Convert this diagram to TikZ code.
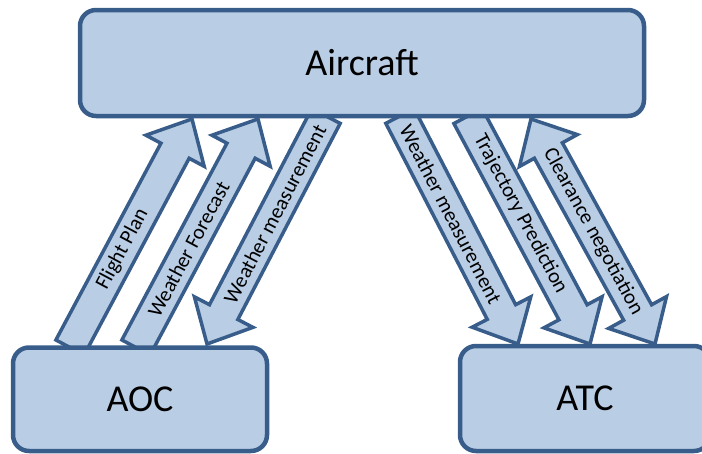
\documentclass[tikz,border=0pt]{standalone}
\usepackage{fontspec}
\setmainfont{Carlito}
\usetikzlibrary{calc}
\pgfdeclarelayer{bg}
\pgfsetlayers{bg,main}

\definecolor{boxfill}{HTML}{B9CDE5}
\definecolor{boxline}{HTML}{385D8A}

\tikzset{
  party/.style={draw=boxline, fill=boxfill, line width=4.5pt, rounded corners=16pt,
    font=\fontsize{38}{44}\selectfont, inner sep=0pt},
  flow/.style={draw=boxline, fill=boxfill, line width=3.5pt, line join=miter},
  flowlabel/.style={font=\fontsize{21}{25}\selectfont, inner sep=0pt},
}

% block arrow geometry
\def\shaftw{16pt}
\def\headw{33pt}
\def\headl{36pt}

% one-headed block arrow from #1 to #2, labelled #3 along its shaft
\newcommand\onearrow[3]{%
  \coordinate (hb) at ($(#2)!\headl!(#1)$);
  \begin{pgfonlayer}{bg}
    \draw[flow] ($(#1)!\shaftw!90:(#2)$) -- ($(hb)!\shaftw!90:(#2)$)
      -- ($(hb)!\headw!90:(#2)$) -- (#2) -- ($(hb)!\headw!-90:(#2)$)
      -- ($(hb)!\shaftw!-90:(#2)$) -- ($(#1)!\shaftw!-90:(#2)$) -- cycle;
  \end{pgfonlayer}
  \path (#1) -- (hb) node[midway, sloped, flowlabel] {#3};
}

% two-headed block arrow between #1 and #2
\newcommand\twoarrow[3]{%
  \coordinate (ha) at ($(#1)!\headl!(#2)$);
  \coordinate (hb) at ($(#2)!\headl!(#1)$);
  \begin{pgfonlayer}{bg}
    \draw[flow] (#1) -- ($(ha)!\headw!90:(#2)$) -- ($(ha)!\shaftw!90:(#2)$)
      -- ($(hb)!\shaftw!90:(#2)$) -- ($(hb)!\headw!90:(#2)$) -- (#2)
      -- ($(hb)!\headw!-90:(#2)$) -- ($(hb)!\shaftw!-90:(#2)$)
      -- ($(ha)!\shaftw!-90:(#2)$) -- ($(ha)!\headw!-90:(#2)$) -- cycle;
  \end{pgfonlayer}
  \path (ha) -- (hb) node[midway, sloped, flowlabel] {#3};
}

\begin{document}
\begin{tikzpicture}[x=1pt, y=-1pt]
  \useasboundingbox (0,0) rectangle (702,453);
  \clip (0,0) rectangle (702,453);

  % the three parties
  \node[party, minimum width=564pt, minimum height=106pt] (air) at (362,63) {Aircraft};
  \node[party, minimum width=254pt, minimum height=103.5pt] (aoc) at (140,399.25) {AOC};
  \node[party, minimum width=250pt, minimum height=105pt] (atc) at (585,398.5) {ATC};

  % arrow end points on the box borders
  \coordinate (fpS) at (70,347.5);   \coordinate (fpE) at (192,119);
  \coordinate (wfS) at (136,347.5);  \coordinate (wfE) at (258,119);
  \coordinate (wmlS) at (326,116);   \coordinate (wmlE) at (207,344);
  \coordinate (wmrS) at (400,116);   \coordinate (wmrE) at (518,344);
  \coordinate (tpS) at (468,116);    \coordinate (tpE) at (590,344);
  \coordinate (cnA) at (531,119);    \coordinate (cnB) at (655,344);

  % AOC <-> Aircraft
  \onearrow{fpS}{fpE}{Flight Plan}
  \onearrow{wfS}{wfE}{Weather Forecast}
  \onearrow{wmlS}{wmlE}{Weather measurement}

  % Aircraft <-> ATC
  \onearrow{wmrS}{wmrE}{Weather measurement}
  \onearrow{tpS}{tpE}{Trajectory Prediction}
  \twoarrow{cnA}{cnB}{Clearance negotiation}
\end{tikzpicture}
\end{document}
